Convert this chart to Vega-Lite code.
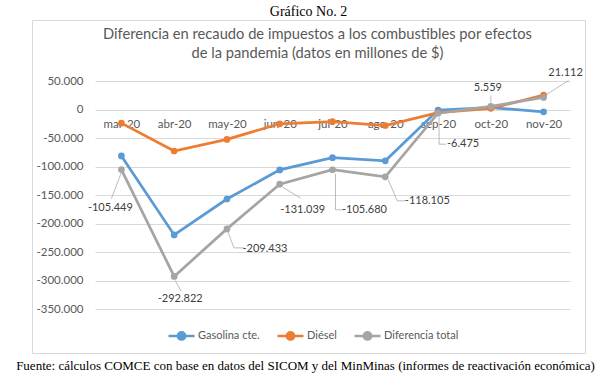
{
  "$schema": "https://vega.github.io/schema/vega-lite/v6.json",
  "autosize": {"type": "none"},
  "width": 553,
  "height": 333,
  "padding": {"left": 32, "top": 20, "right": 25, "bottom": 28},
  "background": "white",
  "config": {
    "view": {"stroke": "#D9D9D9", "strokeWidth": 1},
    "locale": {"number": {"decimal": ",", "thousands": ".", "grouping": [3], "currency": ["$", ""], "minus": "-"}}
  },
  "title": {
    "text": ["Diferencia en recaudo de impuestos a los combustibles por efectos", "de la pandemia (datos en millones de $)"],
    "font": "Lato",
    "fontSize": 14.7,
    "fontWeight": "normal",
    "color": "#595959",
    "lineHeight": 19,
    "anchor": "middle",
    "dx": 9,
    "offset": -57
  },
  "data": {
    "values": [
      {"mes": "mar-20", "serie": "Gasolina cte.", "valor": -81500},
      {"mes": "abr-20", "serie": "Gasolina cte.", "valor": -220000},
      {"mes": "may-20", "serie": "Gasolina cte.", "valor": -157000},
      {"mes": "jun-20", "serie": "Gasolina cte.", "valor": -106000},
      {"mes": "jul-20", "serie": "Gasolina cte.", "valor": -84500},
      {"mes": "ago-20", "serie": "Gasolina cte.", "valor": -90000},
      {"mes": "sep-20", "serie": "Gasolina cte.", "valor": -1000},
      {"mes": "oct-20", "serie": "Gasolina cte.", "valor": 3500},
      {"mes": "nov-20", "serie": "Gasolina cte.", "valor": -4000},
      {"mes": "mar-20", "serie": "Diésel", "valor": -23949},
      {"mes": "abr-20", "serie": "Diésel", "valor": -72822},
      {"mes": "may-20", "serie": "Diésel", "valor": -52433},
      {"mes": "jun-20", "serie": "Diésel", "valor": -25039},
      {"mes": "jul-20", "serie": "Diésel", "valor": -21180},
      {"mes": "ago-20", "serie": "Diésel", "valor": -28105},
      {"mes": "sep-20", "serie": "Diésel", "valor": -5475},
      {"mes": "oct-20", "serie": "Diésel", "valor": 2059},
      {"mes": "nov-20", "serie": "Diésel", "valor": 25112},
      {"mes": "mar-20", "serie": "Diferencia total", "valor": -105449},
      {"mes": "abr-20", "serie": "Diferencia total", "valor": -292822},
      {"mes": "may-20", "serie": "Diferencia total", "valor": -209433},
      {"mes": "jun-20", "serie": "Diferencia total", "valor": -131039},
      {"mes": "jul-20", "serie": "Diferencia total", "valor": -105680},
      {"mes": "ago-20", "serie": "Diferencia total", "valor": -118105},
      {"mes": "sep-20", "serie": "Diferencia total", "valor": -6475},
      {"mes": "oct-20", "serie": "Diferencia total", "valor": 5559},
      {"mes": "nov-20", "serie": "Diferencia total", "valor": 21112}
    ]
  },
  "encoding": {
    "x": {
      "field": "mes",
      "type": "ordinal",
      "sort": ["mar-20", "abr-20", "may-20", "jun-20", "jul-20", "ago-20", "sep-20", "oct-20", "nov-20"],
      "scale": {"type": "point", "range": [63, 538], "padding": 0.5},
      "axis": {
        "orient": "bottom",
        "offset": -244,
        "domain": false,
        "ticks": false,
        "tickSize": 0,
        "grid": false,
        "labelAngle": 0,
        "labelFont": "Lato",
        "labelFontSize": 11.5,
        "labelColor": "#595959",
        "labelPadding": 9,
        "title": "Fuente: cálculos COMCE con base en datos del SICOM y del MinMinas (informes de reactivación económica)",
        "titleFont": "Liberation Serif",
        "titleFontSize": 13,
        "titleFontWeight": "normal",
        "titleColor": "black",
        "titleX": 273,
        "titleY": 256,
        "titleAlign": "center",
        "titleBaseline": "middle"
      }
    },
    "y": {
      "field": "valor",
      "type": "quantitative",
      "scale": {"domain": [-350000, 50000], "range": [289, 61], "nice": false, "zero": false},
      "axis": {
        "orient": "left",
        "offset": -63,
        "values": [-350000, -300000, -250000, -200000, -150000, -100000, -50000, 0, 50000],
        "format": ",d",
        "domain": false,
        "ticks": false,
        "tickSize": 0,
        "gridColor": "#D9D9D9",
        "gridWidth": 1,
        "labelFont": "Lato",
        "labelFontSize": 11.5,
        "labelColor": "#595959",
        "labelPadding": 12,
        "title": "Gráfico No. 2",
        "titleFont": "Liberation Serif",
        "titleFontSize": 14,
        "titleFontWeight": "normal",
        "titleColor": "black",
        "titleAngle": 0,
        "titleX": 213,
        "titleY": -9,
        "titleAlign": "center",
        "titleBaseline": "middle"
      }
    }
  },
  "layer": [
    {
      "mark": {"type": "line", "strokeWidth": 2.75, "point": {"filled": true, "size": 45}},
      "encoding": {
        "color": {
          "field": "serie",
          "type": "nominal",
          "scale": {"domain": ["Gasolina cte.", "Diésel", "Diferencia total"], "range": ["#5B9BD5", "#ED7D31", "#A5A5A5"]},
          "legend": {
            "title": null,
            "orient": "none",
            "direction": "horizontal",
            "legendX": 135,
            "legendY": 301,
            "symbolType": "M-1,0H1M-0.28,0A0.28,0.28 0 1,1 0.28,0A0.28,0.28 0 1,1 -0.28,0",
            "symbolSize": 676,
            "symbolStrokeWidth": 2.5,
            "labelFont": "Lato",
            "labelFontSize": 11,
            "labelColor": "#595959",
            "labelOffset": 2,
            "columnPadding": 12
          }
        }
      }
    },
    {
      "transform": [{"filter": "datum.serie === 'Diferencia total' && datum.mes === 'mar-20'"}],
      "layer": [
        {"mark": {"type": "rule", "color": "#A6A6A6", "strokeWidth": 0.75, "xOffset": 0, "yOffset": 3, "x2Offset": -10, "y2Offset": 29}, "encoding": {"x2": {"field": "mes"}, "y2": {"field": "valor"}}},
        {"mark": {"type": "text", "font": "Lato", "fontSize": 11, "color": "#404040", "dx": -11, "dy": 38}, "encoding": {"text": {"field": "valor", "format": ",d"}}}
      ]
    },
    {
      "transform": [{"filter": "datum.serie === 'Diferencia total' && datum.mes === 'abr-20'"}],
      "layer": [
        {"mark": {"type": "rule", "color": "#A6A6A6", "strokeWidth": 0.75, "xOffset": 1, "yOffset": 4, "x2Offset": 7, "y2Offset": 15}, "encoding": {"x2": {"field": "mes"}, "y2": {"field": "valor"}}},
        {"mark": {"type": "text", "font": "Lato", "fontSize": 11, "color": "#404040", "dx": 6, "dy": 23}, "encoding": {"text": {"field": "valor", "format": ",d"}}}
      ]
    },
    {
      "transform": [{"filter": "datum.serie === 'Diferencia total' && datum.mes === 'may-20'"}],
      "layer": [
        {"mark": {"type": "rule", "color": "#A6A6A6", "strokeWidth": 0.75, "xOffset": 1, "yOffset": 3, "x2Offset": 7, "y2Offset": 19}, "encoding": {"x2": {"field": "mes"}, "y2": {"field": "valor"}}},
        {"mark": {"type": "rule", "color": "#A6A6A6", "strokeWidth": 0.75, "xOffset": 7, "yOffset": 19, "x2Offset": 17, "y2Offset": 19}, "encoding": {"x2": {"field": "mes"}, "y2": {"field": "valor"}}},
        {"mark": {"type": "text", "font": "Lato", "fontSize": 11, "color": "#404040", "dx": 38, "dy": 20}, "encoding": {"text": {"field": "valor", "format": ",d"}}}
      ]
    },
    {
      "transform": [{"filter": "datum.serie === 'Diferencia total' && datum.mes === 'jun-20'"}],
      "layer": [
        {"mark": {"type": "rule", "color": "#A6A6A6", "strokeWidth": 0.75, "xOffset": 3, "yOffset": 3, "x2Offset": 21, "y2Offset": 14}, "encoding": {"x2": {"field": "mes"}, "y2": {"field": "valor"}}},
        {"mark": {"type": "text", "font": "Lato", "fontSize": 11, "color": "#404040", "dx": 23, "dy": 26}, "encoding": {"text": {"field": "valor", "format": ",d"}}}
      ]
    },
    {
      "transform": [{"filter": "datum.serie === 'Diferencia total' && datum.mes === 'jul-20'"}],
      "layer": [
        {"mark": {"type": "rule", "color": "#A6A6A6", "strokeWidth": 0.75, "xOffset": 3, "yOffset": 4, "x2Offset": 3, "y2Offset": 40}, "encoding": {"x2": {"field": "mes"}, "y2": {"field": "valor"}}},
        {"mark": {"type": "rule", "color": "#A6A6A6", "strokeWidth": 0.75, "xOffset": 3, "yOffset": 40, "x2Offset": 11, "y2Offset": 40}, "encoding": {"x2": {"field": "mes"}, "y2": {"field": "valor"}}},
        {"mark": {"type": "text", "font": "Lato", "fontSize": 11, "color": "#404040", "dx": 32, "dy": 40}, "encoding": {"text": {"field": "valor", "format": ",d"}}}
      ]
    },
    {
      "transform": [{"filter": "datum.serie === 'Diferencia total' && datum.mes === 'ago-20'"}],
      "layer": [
        {"mark": {"type": "rule", "color": "#A6A6A6", "strokeWidth": 0.75, "xOffset": 3, "yOffset": 3, "x2Offset": 12, "y2Offset": 24}, "encoding": {"x2": {"field": "mes"}, "y2": {"field": "valor"}}},
        {"mark": {"type": "rule", "color": "#A6A6A6", "strokeWidth": 0.75, "xOffset": 12, "yOffset": 24, "x2Offset": 20, "y2Offset": 24}, "encoding": {"x2": {"field": "mes"}, "y2": {"field": "valor"}}},
        {"mark": {"type": "text", "font": "Lato", "fontSize": 11, "color": "#404040", "dx": 42, "dy": 24}, "encoding": {"text": {"field": "valor", "format": ",d"}}}
      ]
    },
    {
      "transform": [{"filter": "datum.serie === 'Diferencia total' && datum.mes === 'sep-20'"}],
      "layer": [
        {"mark": {"type": "rule", "color": "#A6A6A6", "strokeWidth": 0.75, "xOffset": 1, "yOffset": 4, "x2Offset": 1, "y2Offset": 31}, "encoding": {"x2": {"field": "mes"}, "y2": {"field": "valor"}}},
        {"mark": {"type": "rule", "color": "#A6A6A6", "strokeWidth": 0.75, "xOffset": 1, "yOffset": 31, "x2Offset": 8, "y2Offset": 31}, "encoding": {"x2": {"field": "mes"}, "y2": {"field": "valor"}}},
        {"mark": {"type": "text", "font": "Lato", "fontSize": 11, "color": "#404040", "dx": 25, "dy": 31}, "encoding": {"text": {"field": "valor", "format": ",d"}}}
      ]
    },
    {
      "transform": [{"filter": "datum.serie === 'Diferencia total' && datum.mes === 'oct-20'"}],
      "layer": [
        {"mark": {"type": "rule", "color": "#A6A6A6", "strokeWidth": 0.75, "xOffset": 0, "yOffset": -4, "x2Offset": 0, "y2Offset": -11}, "encoding": {"x2": {"field": "mes"}, "y2": {"field": "valor"}}},
        {"mark": {"type": "text", "font": "Lato", "fontSize": 11, "color": "#404040", "dx": -3, "dy": -18}, "encoding": {"text": {"field": "valor", "format": ",d"}}}
      ]
    },
    {
      "transform": [{"filter": "datum.serie === 'Diferencia total' && datum.mes === 'nov-20'"}],
      "layer": [
        {"mark": {"type": "rule", "color": "#A6A6A6", "strokeWidth": 0.75, "xOffset": 3, "yOffset": -3, "x2Offset": 25, "y2Offset": -17}, "encoding": {"x2": {"field": "mes"}, "y2": {"field": "valor"}}},
        {"mark": {"type": "text", "font": "Lato", "fontSize": 11, "color": "#404040", "dx": 22, "dy": -24}, "encoding": {"text": {"field": "valor", "format": ",d"}}}
      ]
    }
  ]
}
